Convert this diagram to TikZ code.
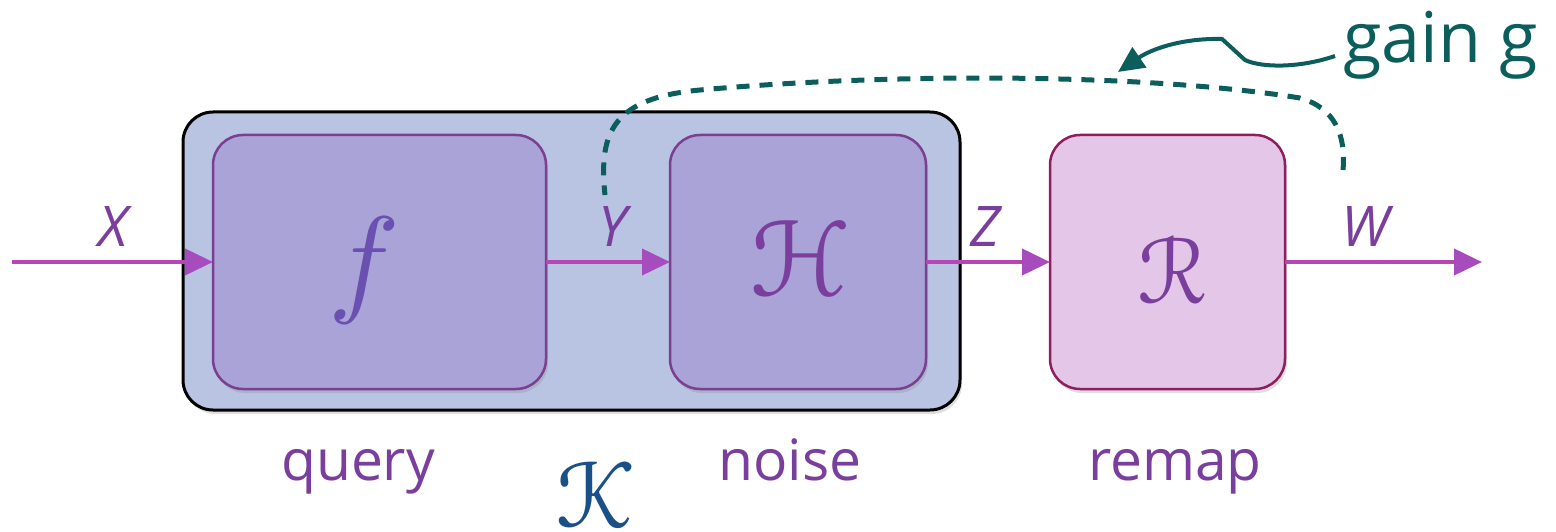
\documentclass[tikz,border=0pt]{standalone}
\usepackage{fontspec}
\setmainfont{Open Sans}
\usepackage[mathscr]{eucal}
\usetikzlibrary{arrows.meta,shadows}
\definecolor{linec}{HTML}{B845B6}
\definecolor{tipc}{HTML}{A64CBC}
\definecolor{labc}{HTML}{7A3E9D}
\definecolor{kfill}{HTML}{B8C4E2}
\definecolor{ifill}{HTML}{A9A3D7}
\definecolor{iedge}{HTML}{7A3F8E}
\definecolor{rfill}{HTML}{E3C6E8}
\definecolor{redge}{HTML}{8E1E5E}
\definecolor{tealc}{HTML}{0B5E5B}
\definecolor{kblue}{HTML}{1A5088}
\definecolor{fcol}{HTML}{6A50B0}
\tikzset{
  shad/.style={drop shadow={opacity=0.25,shadow xshift=2pt,shadow yshift=-4pt}},
  outerbox/.style={draw=black,line width=3pt,fill=kfill,rounded corners=30pt,inner sep=0pt,outer sep=0pt,shad},
  innerbox/.style={draw=iedge,line width=2.5pt,fill=ifill,rounded corners=30pt,inner sep=0pt,outer sep=0pt,shad},
  rbox/.style={draw=redge,line width=2.5pt,fill=rfill,rounded corners=30pt,inner sep=0pt,outer sep=0pt,shad},
  flow/.style={draw=linec,line width=4pt,-{Triangle[length=28pt,width=26pt,color=tipc]}},
  sig/.style={text=labc,font=\fontsize{56}{56}\selectfont\itshape,inner sep=0pt},
  captxt/.style={text=labc,font=\fontsize{57}{57}\selectfont,inner sep=0pt},
  feedback/.style={draw=tealc,line width=5pt,dash pattern=on 13pt off 10pt},
  glyph/.style={inner sep=0pt},
}
\begin{document}
\begin{tikzpicture}[x=1pt,y=-1pt]
\useasboundingbox (0,0) rectangle (1556,532);
% boxes
\node[outerbox,minimum width=777pt,minimum height=298pt] (K) at (571.5,261) {};
\node[innerbox,minimum width=333pt,minimum height=254pt] (F) at (379.5,262) {};
\node[innerbox,minimum width=256pt,minimum height=254pt] (H) at (798,262) {};
\node[rbox,minimum width=235pt,minimum height=254pt] (R) at (1167.5,262) {};
% glyphs
\node[glyph,text=fcol,scale=12] (fg) at (364,270) {$f$};
\node[glyph,text=labc,scale=11] (hg) at (800,258) {$\mathscr{H}$};
\node[glyph,text=labc,scale=9.5] (rg) at (1172,270) {$\mathscr{R}$};
\node[glyph,text=kblue,scale=9.5] (kg) at (596,494) {$\mathscr{K}$};
% flow
\coordinate (in) at (12,262);
\coordinate (out) at (1482,262);
\draw[flow] (in) -- (F.west);
\draw[flow] (F.east) -- (H.west);
\draw[flow] (H.east) -- (R.west);
\draw[flow] (R.east) -- (out);
% signal labels
\node[sig,anchor=base] (X) at (113,246) {X};
\node[sig,anchor=base] (Y) at (613,246) {Y};
\node[sig,anchor=base] (Z) at (985,246) {Z};
\node[sig,anchor=base] (W) at (1365,246) {W};
% captions
\node[captxt,anchor=base] (q) at (358,480) {query};
\node[captxt,anchor=base] (n) at (790,480) {noise};
\node[captxt,anchor=base] (m) at (1175,480) {remap};
% feedback
\coordinate (fbs) at (1343,170);
\coordinate (fbe) at (605,195);
\draw[feedback] (fbs) .. controls (1346,135) and (1335,108) .. (1300,98)
  .. controls (1150,74) and (900,72) .. (700,90)
  .. controls (615,98) and (598,130) .. (fbe);
% gain
\node[text=tealc,font=\fontsize{70}{70}\selectfont,anchor=base west,inner sep=0pt] (gain) at (1343,63) {gain g};
\coordinate (gt) at (1335,56);
\coordinate (gh) at (1118,72);
\draw[tealc,line width=4pt,-{Triangle[length=26pt,width=24pt]}] (gt) .. controls (1300,68) and (1262,68) .. (1245,60) -- (1222,39) .. controls (1180,38) and (1150,50) .. (gh);
\end{tikzpicture}
\end{document}
